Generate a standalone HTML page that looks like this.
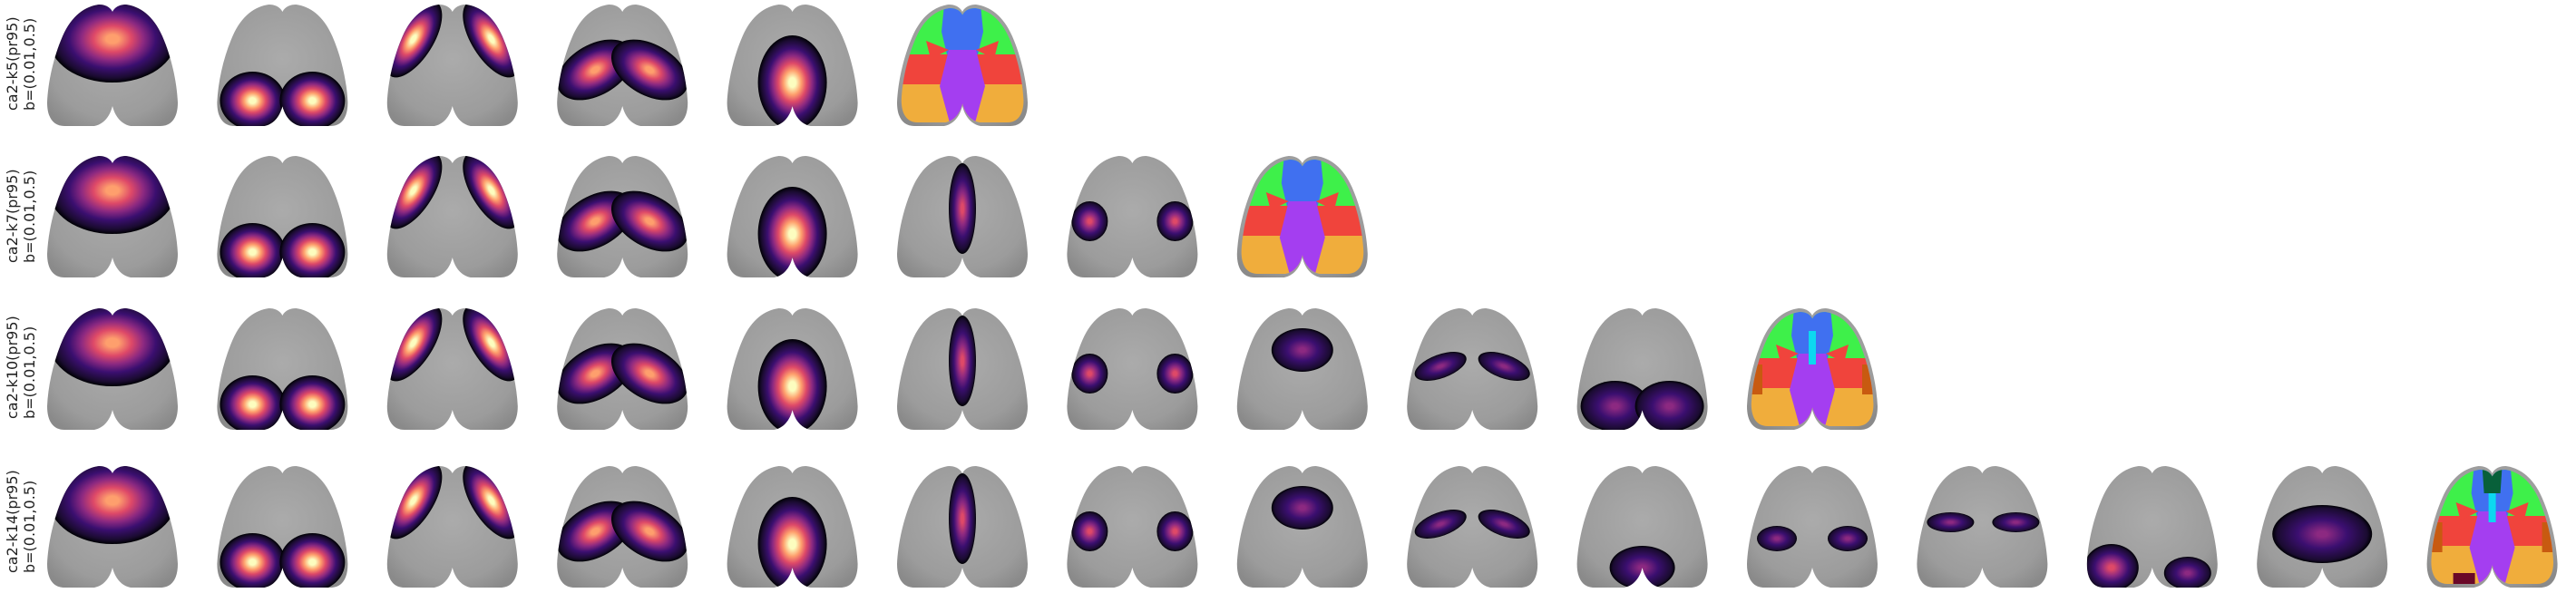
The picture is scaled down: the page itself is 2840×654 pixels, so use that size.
<!DOCTYPE html>
<html><head><meta charset="utf-8"><style>
html,body{margin:0;padding:0;background:#fff;width:2840px;height:654px;overflow:hidden}
.lbl{position:absolute;font-family:"DejaVu Sans","Liberation Sans",sans-serif;font-size:16px;color:#222;transform-origin:0 0;transform:rotate(-90deg);white-space:nowrap;line-height:19px}
</style></head><body>
<svg id="fig" width="2840" height="654" style="position:absolute;left:0;top:0">
<defs>
<radialGradient id="gray" cx="50%" cy="45%" r="65%">
<stop offset="0" stop-color="#ababab"/><stop offset="0.75" stop-color="#9c9c9c"/><stop offset="1" stop-color="#8a8a8a"/></radialGradient>
<clipPath id="bclip"><path d="M75,8 C72,2 66,0 60,0 C45,2 30,12 20,35 C10,58 4,85 3,108 C3,125 10,134 22,134 L55,134 C65,132 72,124 75,112 C78,124 85,132 95,134 L128,134 C140,134 147,125 147,108 C146,85 140,58 130,35 C120,12 105,2 90,0 C84,0 78,2 75,8 Z"/></clipPath>
<clipPath id="aclip"><path transform="translate(5,4) scale(0.935,0.94)" d="M75,8 C72,2 66,0 60,0 C45,2 30,12 20,35 C10,58 4,85 3,108 C3,125 10,134 22,134 L55,134 C65,132 72,124 75,112 C78,124 85,132 95,134 L128,134 C140,134 147,125 147,108 C146,85 140,58 130,35 C120,12 105,2 90,0 C84,0 78,2 75,8 Z"/></clipPath>
</defs>
</svg>
<div class="lbl" style="left:4px;top:122px">ca2-k5(pr95)<br>b=(0.01,0.5)</div>
<div class="lbl" style="left:4px;top:290px">ca2-k7(pr95)<br>b=(0.01,0.5)</div>
<div class="lbl" style="left:4px;top:462px">ca2-k10(pr95)<br>b=(0.01,0.5)</div>
<div class="lbl" style="left:4px;top:632px">ca2-k14(pr95)<br>b=(0.01,0.5)</div>
<script>
const rowNames=['k5','k7','k10','k14'];
const rowTops=[5,172,340,514];
const colCount=[5,7,10,14];
// blob library: [cx,cy,rx,ry,rot,peak]
const B={
 ant:[[75,38,70,48,0,0.8]],
 post:[[42,106,36,32,0,1],[108,106,36,32,0,1]],
 antLat:[[32,38,22,48,32,1],[118,38,22,48,-32,1]],
 midLat:[[45,72,46,28,-30,0.85],[105,72,46,28,30,0.85]],
 center:[[75,86,38,52,0,0.9]],
 stripe:[[75,58,15,50,0,0.55]],
 lat:[[28,72,20,22,0,0.55],[122,72,20,22,0,0.5]],
 topC:[[75,46,34,24,0,0.4]],
 latThin:[[40,64,30,13,-20,0.35],[110,64,30,13,20,0.35]],
 postDark:[[45,108,38,28,0,0.35],[105,108,38,28,0,0.3]],
 botC:[[75,112,36,24,0,0.35]],
 latLow:[[36,80,22,14,0,0.3],[114,80,22,14,0,0.3]],
 latMid:[[40,62,26,11,0,0.3],[112,62,26,11,0,0.3]],
 lowR:[[30,112,30,26,0,0.6],[114,118,26,18,0,0.35]],
 midBand:[[75,75,55,32,0,0.3]]
};
const rowBlobs=[
 ['ant','post','antLat','midLat','center'],
 ['ant','post','antLat','midLat','center','stripe','lat'],
 ['ant','post','antLat','midLat','center','stripe','lat','topC','latThin','postDark'],
 ['ant','post','antLat','midLat','center','stripe','lat','topC','latThin','botC','latLow','latMid','lowR','midBand']
];
const NS='http://www.w3.org/2000/svg';
const svg=document.getElementById('fig');
const defs=svg.querySelector('defs');
const BRAIN="M75,8 C72,2 66,0 60,0 C45,2 30,12 20,35 C10,58 4,85 3,108 C3,125 10,134 22,134 L55,134 C65,132 72,124 75,112 C78,124 85,132 95,134 L128,134 C140,134 147,125 147,108 C146,85 140,58 130,35 C120,12 105,2 90,0 C84,0 78,2 75,8 Z";
const magma=['#000004','#3b0f70','#8c2981','#de4968','#fe9f6d','#fcfdbf'];
let gid=0;
function grad(peak){
 const g=document.createElementNS(NS,'radialGradient');
 g.setAttribute('id','m'+(++gid));
 const n=Math.max(1,Math.round(peak*5));
 const stops=[];
 for(let i=n;i>=1;i--)stops.push(magma[i]);
 stops.forEach((c,i)=>{const s=document.createElementNS(NS,'stop');s.setAttribute('offset',(0.1+i/(stops.length)*0.78).toFixed(2));s.setAttribute('stop-color',c);g.appendChild(s);});
 const s1=document.createElementNS(NS,'stop');s1.setAttribute('offset','0.9');s1.setAttribute('stop-color','#1a0b30');g.appendChild(s1);
 const s2=document.createElementNS(NS,'stop');s2.setAttribute('offset','1');s2.setAttribute('stop-color','#000004');g.appendChild(s2);
 defs.appendChild(g);return 'm'+gid;
}
function brainBase(g){
 const p=document.createElementNS(NS,'path');p.setAttribute('d',BRAIN);p.setAttribute('fill','url(#gray)');
 
 
 g.appendChild(p);
}
function drawAtlas(g,k){
 const a=document.createElementNS(NS,'g');a.setAttribute('clip-path','url(#aclip)');
 const polys=[['#3ef04a','0,0 150,0 150,60 0,60'],['#4070f0','55,0 95,0 98,30 92,55 58,55 52,30'],
  ['#f0443c','0,55 150,55 150,92 0,92'],['#f0443c','35,40 60,50 40,60'],['#f0443c','115,40 90,50 110,60'],['#f0ad3c','0,88 150,88 150,134 0,134'],
  ['#a43ef0','60,50 90,50 100,90 88,134 62,134 50,90']];
 if(k>=10){polys.push(['#0cd8f0','71,25 79,25 79,62 71,62'],['#c85a10','0,62 20,62 20,95 0,95'],['#c85a10','130,62 150,62 150,95 130,95']);}
 if(k>=14){polys.push(['#08603a','64,0 86,0 84,30 66,30'],['#6a0828','32,118 56,118 56,134 32,134']);}
 polys.forEach(([c,pt])=>{const p=document.createElementNS(NS,'polygon');p.setAttribute('points',pt);p.setAttribute('fill',c);
  
  
  a.appendChild(p);});
 g.appendChild(a);
}
const x0=49, pitch=187.4;
rowNames.forEach((rn,r)=>{
 const list=rowBlobs[r];
 for(let c=0;c<=list.length;c++){
  const g=document.createElementNS(NS,'g');
  g.setAttribute('transform',`translate(${(x0+c*pitch).toFixed(1)},${rowTops[r]})`);
  
  
  brainBase(g);
  if(c<list.length){
   const cg=document.createElementNS(NS,'g');cg.setAttribute('clip-path','url(#bclip)');
   B[list[c]].forEach(([cx,cy,rx,ry,rot,pk])=>{
    const e=document.createElementNS(NS,'ellipse');
    e.setAttribute('cx',cx);e.setAttribute('cy',cy);e.setAttribute('rx',rx);e.setAttribute('ry',ry);
    e.setAttribute('transform',`rotate(${rot},${cx},${cy})`);
    e.setAttribute('fill','url(#'+grad(pk)+')');
    
    
    cg.appendChild(e);
   });
   g.appendChild(cg);
  } else drawAtlas(g,colCount[r]);
  svg.appendChild(g);
 }
});
</script>
</body></html>
